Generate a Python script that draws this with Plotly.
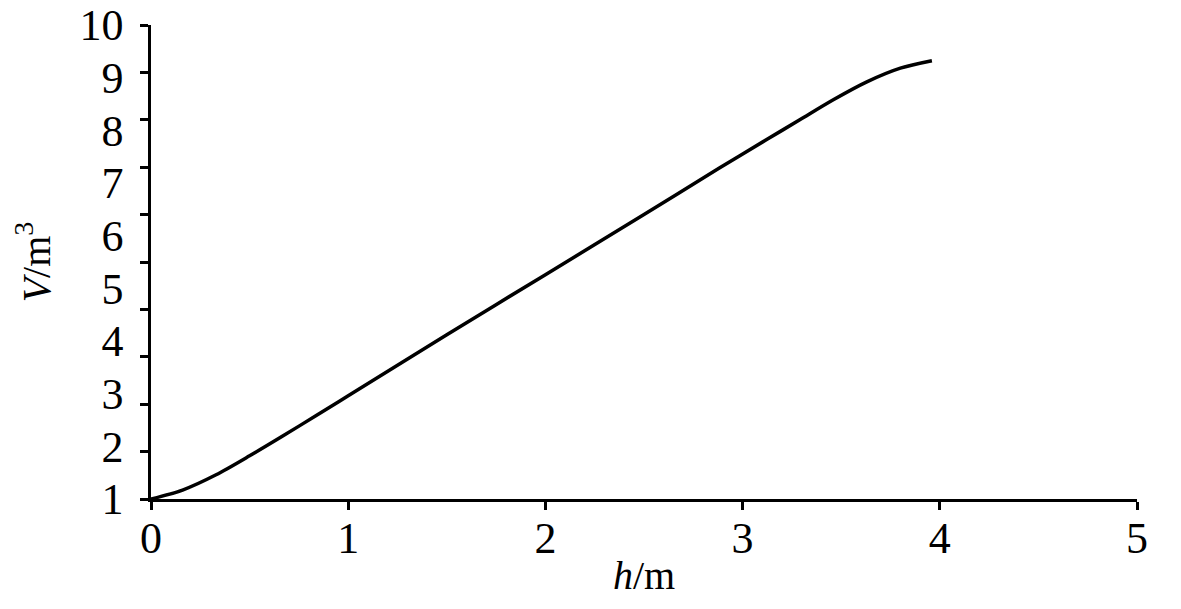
import plotly.graph_objects as go

# h (m) vs V (m^3)
H_VALUES = [0.0, 0.16, 0.33, 0.5, 0.67, 0.84, 1.0, 1.5, 2.0, 2.5, 2.88,
            3.12, 3.29, 3.46, 3.63, 3.8, 3.96]
V_VALUES = [1.0, 1.17, 1.46, 1.82, 2.2, 2.59, 2.96, 4.12, 5.26, 6.4, 7.28,
            7.82, 8.2, 8.58, 8.92, 9.18, 9.32]

X_TICKS = [0, 1, 2, 3, 4, 5]
Y_TICKS = [1, 2, 3, 4, 5, 6, 7, 8, 9, 10]

FONT = "Liberation Serif"
AXIS_STYLE = {
    "showline": True,
    "linecolor": "black",
    "linewidth": 2.5,
    "showgrid": False,
    "zeroline": False,
    "automargin": False,
    "ticklabeloverflow": "allow",
    "tickfont": {"family": FONT, "size": 44, "color": "black"},
}

fig = go.Figure()
fig.add_trace(
    go.Scatter(
        x=H_VALUES,
        y=V_VALUES,
        mode="lines",
        line={"color": "black", "width": 3.5, "shape": "spline", "smoothing": 0.8},
        cliponaxis=False,
        showlegend=False,
    )
)

fig.update_xaxes(
    range=[0, 5],
    tickvals=X_TICKS,
    ticks="outside",
    ticklen=8,
    tickwidth=2.5,
    tickcolor="black",
    ticklabelstandoff=-10,
    title={"text": "<i>h</i>/m", "font": {"family": FONT, "size": 40, "color": "black"}, "standoff": 0},
    **AXIS_STYLE,
)
# the reference has 11 evenly spaced tick marks with 10 labels spread over them
fig.update_yaxes(
    range=[1, 10],
    tickvals=Y_TICKS,
    ticks="",
    minor={"ticks": "outside", "tick0": 1, "dtick": 0.9, "ticklen": 8,
           "tickwidth": 2.5, "tickcolor": "black"},
    ticklabelstandoff=16,
    title={"text": "<i>V</i>/m<sup>3</sup>", "font": {"family": FONT, "size": 40, "color": "black"}, "standoff": 32},
    **AXIS_STYLE,
)

# page body adds an 8px margin, so the figure is sized to fit inside it
fig.update_layout(
    width=1173,
    height=601,
    margin={"l": 143, "r": 44, "t": 17, "b": 110},
    plot_bgcolor="white",
    paper_bgcolor="white",
)

fig.write_html("out.html")
